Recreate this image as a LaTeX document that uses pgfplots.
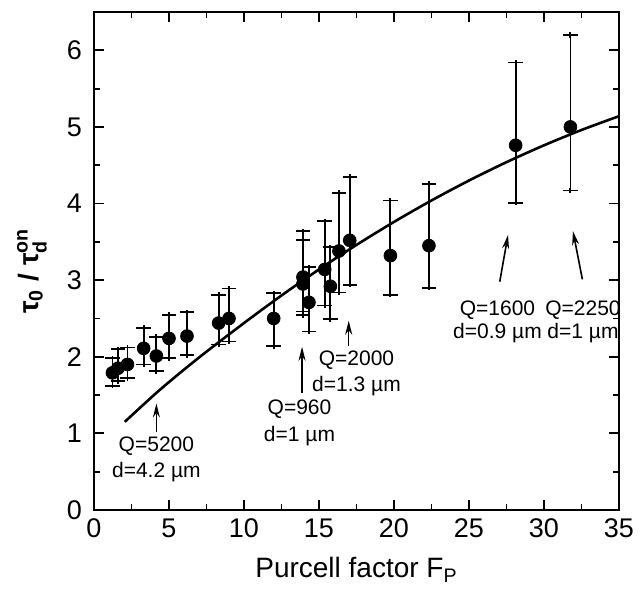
\documentclass[border=0pt]{standalone}
\usepackage{amsmath}
\usepackage{fontspec}
\setmainfont{Liberation Sans}
\usepackage{pgfplots}
\usepackage{pgfplotstable}
\pgfplotsset{compat=1.18}
\usetikzlibrary{arrows.meta}

% x, y, upper and lower error
\pgfplotstableread{
x      y     ep    em
1.23   1.79  0.19  0.17
1.60   1.85  0.25  0.17
2.23   1.90  0.22  0.18
3.31   2.11  0.27  0.21
4.16   2.01  0.25  0.20
5.00   2.24  0.31  0.26
6.20   2.27  0.31  0.25
8.31   2.44  0.37  0.28
9.00   2.50  0.39  0.30
11.98  2.50  0.33  0.36
13.93  3.04  0.60  0.50
13.93  2.95  0.57  0.36
14.33  2.71  0.46  0.38
15.38  3.14  0.63  0.47
15.76  2.92  0.51  0.43
16.33  3.38  0.76  0.54
17.05  3.52  0.83  0.58
19.76  3.32  0.72  0.51
22.33  3.45  0.81  0.55
28.11  4.76  1.08  0.75
31.76  5.00  1.20  0.83
}\meas

\begin{document}
\begin{tikzpicture}
\begin{axis}[
    at={(0,0)}, anchor=south west,
    scale only axis,
    width=262.5pt, height=249pt,
    xmin=0, xmax=35, ymin=0, ymax=6.5,
    xtick={0,5,...,35}, ytick={0,1,...,6},
    minor x tick num=1, minor y tick num=1,
    tick align=inside,
    major tick length=5pt, minor tick length=3pt,
    tick style={line width=0.9pt, black},
    axis line style={line width=1.2pt},
    /pgf/number format/assume math mode=true,
    ticklabel style={font=\fontsize{13.5}{15}\selectfont},
    xticklabel style={yshift=-1pt},
    yticklabel style={xshift=-2.5pt},
    xlabel={Purcell factor F\textsubscript{P}},
    xlabel style={font=\fontsize{14}{16}\selectfont, at={(axis description cs:0.5,0)}, anchor=base, yshift=-34pt},
    ylabel={\bfseries τ$_{\text{0}}$ / τ$_{\text{d}}^{\text{on}}$},
    ylabel style={font=\fontsize{14}{16}\selectfont, at={(axis description cs:-0.118,0.48)}, anchor=center},
]
\addplot[smooth, line width=1.3pt] coordinates {
    (2.05,1.15) (4.4,1.57) (7,1.99) (10,2.44) (12.5,2.80) (15,3.14)
    (17.5,3.46) (20,3.76) (22.5,4.04) (25,4.30) (27.5,4.54) (30,4.76)
    (32.5,4.96) (35,5.14)
};
\addplot[only marks, mark=*, mark size=3.2pt, black,
    error bars/.cd, y dir=both, y explicit,
    error mark=+, error mark options={mark size=3.6pt, xscale=0.35, line width=0.9pt, black},
    error bar style={line width=0.9pt, black}]
    table[x=x, y=y, y error plus=ep, y error minus=em] {\meas};

\begin{scope}[font=\fontsize{10.5}{12}\selectfont, every path/.style={line width=0.8pt, -{Stealth[length=7pt, width=3.5pt]}}]
\draw (axis cs:4.16,1.02) -- (axis cs:4.16,1.39);
\node at (axis cs:4.16,0.83) {Q=5200};
\node at (axis cs:4.16,0.50) {d=4.2 µm};
\draw (axis cs:13.87,1.53) -- (axis cs:13.87,2.13);
\node at (axis cs:13.7,1.31) {Q=960};
\node at (axis cs:13.7,0.97) {d=1 µm};
\draw (axis cs:16.98,2.14) -- (axis cs:16.98,2.47);
\node at (axis cs:17.5,1.96) {Q=2000};
\node at (axis cs:17.5,1.62) {d=1.3 µm};
\draw (axis cs:27.05,2.98) -- (axis cs:27.6,3.59);
\node at (axis cs:26.9,2.61) {Q=1600};
\node at (axis cs:26.9,2.31) {d=0.9 µm};
\draw (axis cs:32.56,3.01) -- (axis cs:31.93,3.64);
\node at (axis cs:32.6,2.61) {Q=2250};
\node at (axis cs:32.6,2.31) {d=1 µm};
\end{scope}
\end{axis}
\path[use as bounding box] (-47pt,-38pt) rectangle (275pt,255pt);
\end{tikzpicture}
\end{document}
